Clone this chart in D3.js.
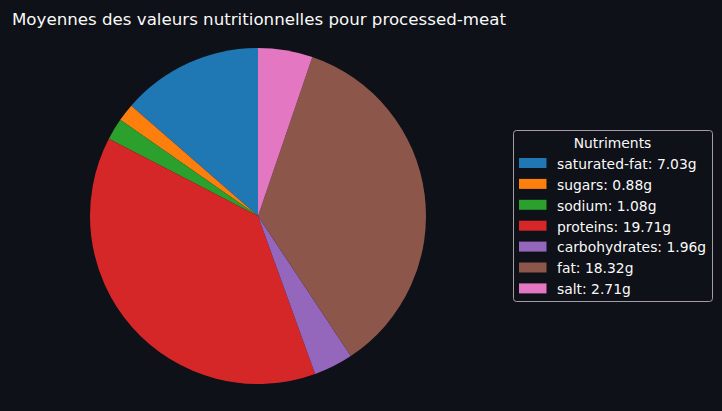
<!DOCTYPE html>
<html><head><meta charset="utf-8">
<script src="https://cdn.jsdelivr.net/npm/d3@7"></script>
<style>html,body{margin:0;padding:0;background:#0e1117;}svg{display:block;}</style>
</head><body>
<script>
const labels = ["saturated-fat","sugars","sodium","proteins","carbohydrates","fat","salt"];
const values = [7.03,0.88,1.08,19.71,1.96,18.32,2.71];
const colors = ["#1f77b4","#ff7f0e","#2ca02c","#d62728","#9467bd","#8c564b","#e377c2"];
const title = "Moyennes des valeurs nutritionnelles pour processed-meat";
const legendTitle = "Nutriments";

const W=722,H=411;
const svg=d3.select("body").append("svg").attr("width",W).attr("height",H);
svg.append("rect").attr("width",W).attr("height",H).attr("fill","#0e1117");
const font="DejaVu Sans, sans-serif";
svg.append("text").attr("x",12).attr("y",24.5).attr("fill","#fafafa")
  .attr("font-family",font).attr("font-size",16.67).text(title);

const cx=258, cy=216, r=168;
const data=labels.map((l,i)=>({label:l,value:values[i],color:colors[i]}));
// matplotlib: start at 90deg, counterclockwise
const pie=d3.pie().value(d=>d.value).sort(null).startAngle(0).endAngle(-2*Math.PI);
const arc=d3.arc().innerRadius(0).outerRadius(r);
svg.append("g").attr("transform",`translate(${cx},${cy})`)
  .selectAll("path").data(pie(data)).join("path")
  .attr("d",arc).attr("fill",d=>d.data.color);

// legend
const lg=svg.append("g");
lg.append("rect").attr("x",513.5).attr("y",130.5).attr("width",199).attr("height",171).attr("rx",3)
  .attr("fill","#0e1117").attr("stroke","#a0a0a0").attr("stroke-width",1);
lg.append("text").attr("x",612.5).attr("y",148).attr("text-anchor","middle").attr("fill","#fafafa")
  .attr("font-family",font).attr("font-size",13.89).text(legendTitle);
data.forEach((d,i)=>{
  const y=163.3+i*20.9;
  lg.append("rect").attr("x",519).attr("y",y-5.3).attr("width",27.5).attr("height",10).attr("fill",d.color);
  lg.append("text").attr("x",557).attr("y",y+5.5).attr("fill","#fafafa")
    .attr("font-family",font).attr("font-size",13.89).text(`${d.label}: ${d.value.toFixed(2)}g`);
});
</script>
</body></html>
